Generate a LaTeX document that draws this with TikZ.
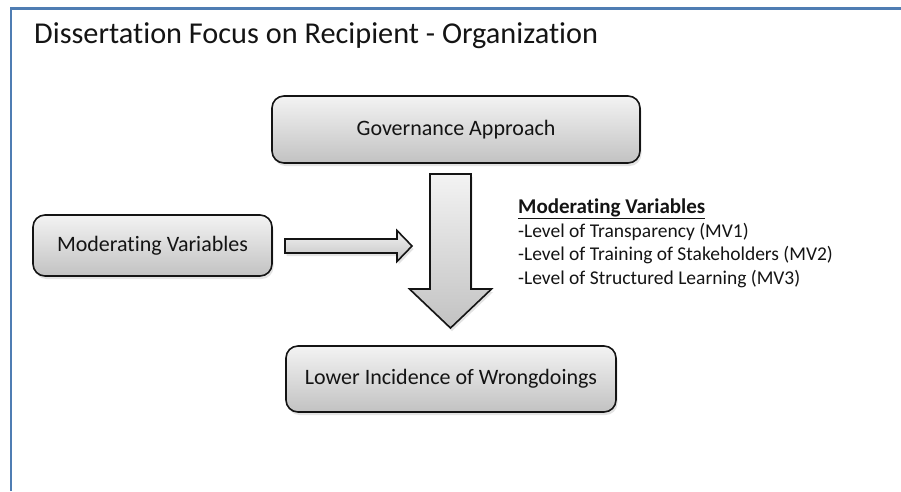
\documentclass[tikz,border=0pt]{standalone}
\usepackage{fontspec}
\setmainfont[Ligatures=NoCommon]{Carlito}
\usetikzlibrary{shadows}
\definecolor{framecol}{HTML}{4F7DB3}
\definecolor{boxtop}{HTML}{F3F3F3}
\definecolor{boxbot}{HTML}{C2C2C2}
\definecolor{inkcol}{HTML}{141414}
\begin{document}
\begin{tikzpicture}[x=1pt,y=-1pt,
  card/.style={draw=inkcol, line width=1.6pt, rounded corners=12pt,
    top color=boxtop, bottom color=boxbot,
    drop shadow={shadow xshift=1.5pt, shadow yshift=-3pt, opacity=0.22},
    font=\fontsize{22}{26}\selectfont, text=inkcol, inner sep=0pt},
  blockarrow/.style={draw=inkcol, line width=1.6pt, line join=miter,
    top color=boxtop, bottom color=boxbot,
    drop shadow={shadow xshift=1.5pt, shadow yshift=-3pt, opacity=0.22}},
  listline/.style={anchor=base west, inner sep=0pt, text=inkcol,
    font=\fontsize{19.5}{23}\selectfont}]
\useasboundingbox (0,0) rectangle (901,491);
\fill[white] (0,0) rectangle (901,491);

% page frame (top and left rules)
\draw[framecol, line width=2.5pt] (11,491) -- (11,8.5) -- (901,8.5);

% title
\node[anchor=base west, inner sep=0pt, text=inkcol, font=\fontsize{30.3}{34}\selectfont]
  (title) at (34,43.5) {Dissertation Focus on Recipient - Organization};

% boxes
\node[card, minimum width=368pt, minimum height=67pt] (gov) at (456,129.5) {Governance Approach};
\node[card, minimum width=239pt, minimum height=61pt] (modv) at (152.5,245.5) {Moderating Variables};
\node[card, minimum width=330pt, minimum height=66pt] (lower) at (451,379) {Lower Incidence of Wrongdoings};

% block arrows
\draw[blockarrow] (430,174) -- (471,174) -- (471,289) -- (491.5,289) -- (450.5,328)
  -- (409.5,289) -- (430,289) -- cycle;
\draw[blockarrow] (285,239) -- (397,239) -- (397,230.5) -- (412,246) -- (397,261.5)
  -- (397,253) -- (285,253) -- cycle;

% list of moderating variables
\node[listline, font=\fontsize{21}{24}\selectfont\bfseries] (mvhead) at (518,213.5) {\underline{Moderating Variables}};
\node[listline] (mv1) at (518,237) {-Level of Transparency (MV1)};
\node[listline] (mv2) at (518,260.5) {-Level of Training of Stakeholders (MV2)};
\node[listline] (mv3) at (518,284) {-Level of Structured Learning (MV3)};
\end{tikzpicture}
\end{document}
